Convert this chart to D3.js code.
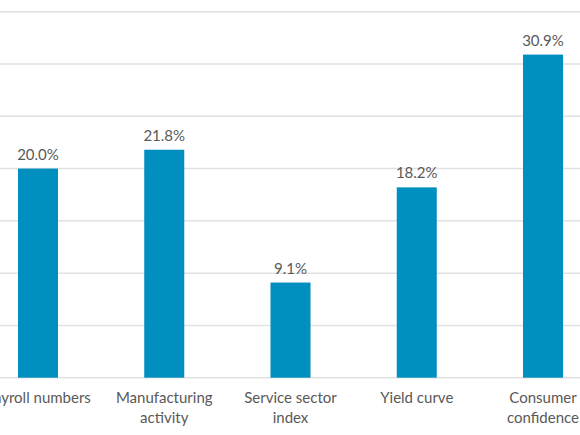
<!DOCTYPE html>
<html>
<head>
<meta charset="utf-8">
<script src="https://cdn.jsdelivr.net/npm/d3@7"></script>
<style>
    body { margin: 0; background: #fff; }
    svg { display: block; font-family: Lato, "Open Sans", sans-serif; }
</style>
</head>
<body>
<svg id="chart"></svg>
<script>
// data
var categories = ["Payroll numbers", "Manufacturing activity", "Service sector index", "Yield curve", "Consumer confidence"];
var labelLines = [["Payroll numbers"], ["Manufacturing", "activity"], ["Service sector", "index"], ["Yield curve"], ["Consumer", "confidence"]];
var values = [20.0, 21.8, 9.1, 18.2, 30.9];
var gridTicks = [0, 5, 10, 15, 20, 25, 30, 35];

var wtot = 580,
    htot = 435;

const svg = d3.select("#chart")
    .attr("width", wtot)
    .attr("height", htot);

// the picture is cropped, so the plot runs a bit past both edges
let x = d3.scaleBand()
    .domain(categories)
    .range([-25.15, 606.15])
    .paddingInner(0.683)
    .paddingOuter(0.3415);

let y = d3.scaleLinear()
    .domain([0, 35])
    .range([377.7, 11.7]);

// gridlines
svg.append("g")
    .selectAll("line")
    .data(gridTicks)
    .join("line")
    .attr("x1", 0)
    .attr("x2", wtot)
    .attr("y1", d => y(d))
    .attr("y2", d => y(d))
    .attr("stroke", "#e1e1e1")
    .attr("stroke-width", 1.5);

// bars
svg.append("g")
    .selectAll("rect")
    .data(values)
    .join("rect")
    .attr("x", (d, i) => x(categories[i]))
    .attr("width", x.bandwidth())
    .attr("y", d => y(d))
    .attr("height", d => y(0) - y(d))
    .attr("fill", "#008fbf");

// value labels
svg.append("g")
    .selectAll("text")
    .data(values)
    .join("text")
    .attr("x", (d, i) => x(categories[i]) + x.bandwidth() / 2)
    .attr("y", d => y(d) - 9)
    .attr("text-anchor", "middle")
    .attr("font-size", 15)
    .attr("fill", "#595959")
    .text(d => d3.format(".1f")(d) + "%");

// category labels
svg.append("g")
    .selectAll("text")
    .data(categories)
    .join("text")
    .attr("x", d => x(d) + x.bandwidth() / 2)
    .attr("y", 403)
    .attr("text-anchor", "middle")
    .attr("font-size", 15)
    .attr("fill", "#595959")
    .selectAll("tspan")
    .data((d, i) => labelLines[i])
    .join("tspan")
    .attr("x", function() { return this.parentNode.getAttribute("x"); })
    .attr("dy", (d, i) => i ? 20 : 0)
    .text(d => d);
</script>
</body>
</html>
